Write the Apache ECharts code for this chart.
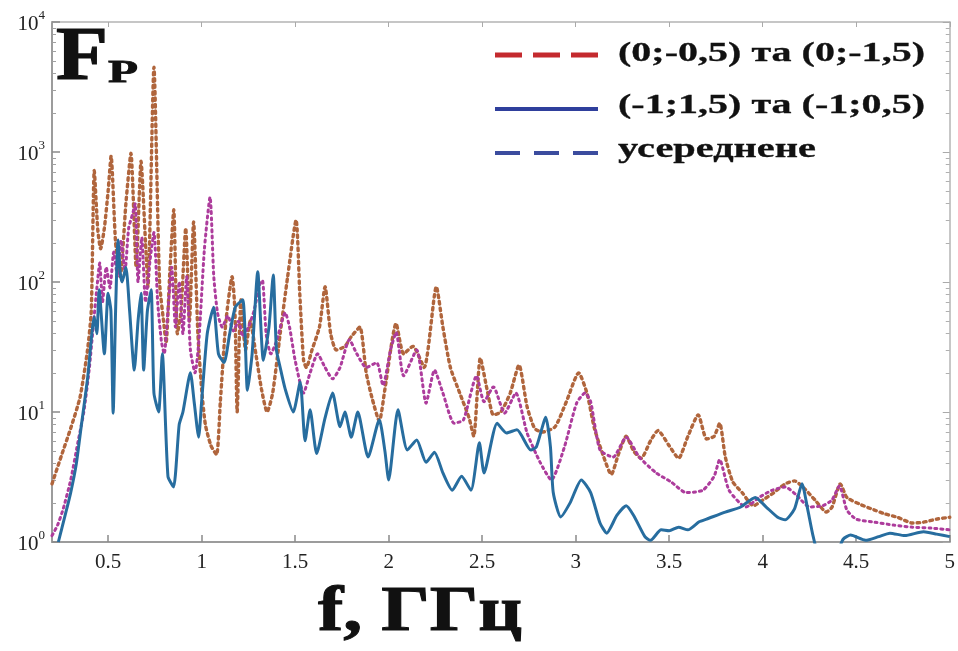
<!DOCTYPE html>
<html>
<head>
<meta charset="utf-8">
<script src="https://cdn.jsdelivr.net/npm/echarts@6/dist/echarts.min.js"></script>
<style>
  html, body { margin: 0; padding: 0; background: #ffffff; }
  #chart { width: 958px; height: 651px; }
</style>
</head>
<body>
<div id="chart"></div>
<script>
// Spectral factor Fp versus frequency f (GHz), three curves.

// (0;-0,5) та (0;-1,5)
const freqA = [0.20, 0.25, 0.30, 0.35, 0.39, 0.41, 0.426, 0.445, 0.46, 0.48, 0.50, 0.516, 0.54, 0.565, 0.595,
  0.622, 0.65, 0.676, 0.70, 0.713, 0.745, 0.775, 0.80, 0.81, 0.83, 0.851, 0.87, 0.89, 0.915, 0.935, 0.957, 0.98,
  1.00, 1.02, 1.05, 1.08, 1.10, 1.13, 1.163, 1.178, 1.19, 1.21, 1.235, 1.26, 1.29, 1.32, 1.35, 1.38, 1.42, 1.46,
  1.505, 1.525, 1.545, 1.56, 1.59, 1.63, 1.66, 1.69, 1.72, 1.766, 1.80, 1.846, 1.88, 1.91, 1.95, 1.98, 2.04,
  2.08, 2.13, 2.19, 2.255, 2.29, 2.33, 2.38, 2.43, 2.455, 2.49, 2.53, 2.56, 2.60, 2.65, 2.697, 2.74, 2.78, 2.82,
  2.89, 2.95, 3.016, 3.06, 3.10, 3.15, 3.19, 3.23, 3.27, 3.31, 3.35, 3.40, 3.44, 3.50, 3.55, 3.60, 3.655, 3.70,
  3.74, 3.77, 3.80, 3.84, 3.89, 3.95, 4.00, 4.06, 4.12, 4.17, 4.22, 4.28, 4.34, 4.37, 4.415, 4.45, 4.52, 4.58,
  4.65, 4.72, 4.80, 4.86, 4.93, 5.00];
const valA = [2.8, 4.6, 7.5, 13, 30, 60, 720, 250, 180, 260, 500, 930, 200, 110, 400,
  980, 130, 850, 200, 92, 4500, 100, 45, 34, 120, 360, 40, 60, 260, 50, 290, 40,
  15, 8, 5.5, 4.7, 12, 50, 110, 60, 10, 73, 30, 50, 28, 15, 10, 14, 40, 110,
  300, 80, 25, 22, 30, 45, 92, 40, 30, 32, 38, 45, 20, 13, 8.5, 15, 48,
  28, 32, 22, 92, 45, 22, 14, 9, 6.5, 26, 14, 9.5, 10, 14, 23, 11, 7.5, 7,
  7.7, 12, 20, 14, 7.5, 4.5, 3.3, 4.8, 6.5, 5, 4.4, 6, 7.2, 5.5, 4.4, 6.5, 9.5, 6.2,
  6.5, 8.2, 4.5, 2.9, 2.4, 1.9, 2.1, 2.4, 2.8, 2.95, 2.6, 2.1, 1.7, 1.85, 2.8, 2.2, 1.95, 1.8,
  1.65, 1.55, 1.4, 1.42, 1.5, 1.55];

// усереднене
const freqB = [0.20, 0.23, 0.26, 0.30, 0.34, 0.37, 0.40, 0.42, 0.44, 0.455, 0.47, 0.49, 0.51, 0.53, 0.55, 0.57,
  0.59, 0.61, 0.63, 0.645, 0.66, 0.68, 0.70, 0.725, 0.745, 0.765, 0.785, 0.80, 0.82, 0.84, 0.86, 0.88, 0.90,
  0.92, 0.94, 0.965, 0.985, 1.015, 1.045, 1.065, 1.085, 1.11, 1.14, 1.17, 1.197, 1.22, 1.25, 1.28, 1.31, 1.325,
  1.345, 1.37, 1.40, 1.447, 1.47, 1.50, 1.545, 1.58, 1.62, 1.66, 1.70, 1.74, 1.79, 1.83, 1.88, 1.936, 1.97,
  2.01, 2.04, 2.08, 2.15, 2.20, 2.245, 2.29, 2.35, 2.40, 2.47, 2.51, 2.56, 2.62, 2.68, 2.74, 2.81, 2.87, 2.94,
  3.005, 3.05, 3.08, 3.13, 3.20, 3.27, 3.34, 3.43, 3.51, 3.59, 3.68, 3.74, 3.77, 3.82, 3.91, 3.98, 4.05, 4.12,
  4.18, 4.25, 4.32, 4.37, 4.41, 4.45, 4.50, 4.60, 4.70, 4.80, 4.90, 5.00];
const valB = [1.12, 1.35, 1.8, 3.0, 6, 10, 22, 45, 90, 140, 70, 130, 90, 170, 110, 210,
  120, 260, 330, 400, 100, 220, 70, 150, 240, 70, 35, 28, 60, 130, 45, 100, 40,
  110, 30, 20, 35, 180, 450, 110, 58, 45, 55, 42, 50, 38, 45, 60, 95, 103,
  40, 28, 35, 58, 45, 25, 14, 20, 28, 22, 18, 22, 36, 28, 22, 24, 16,
  30, 41, 19, 30, 11.7, 21, 14, 8.2, 8.7, 19, 12, 15.6, 9.8, 14, 6.9, 4.1, 3.0, 5.4,
  11.7, 14, 12, 5.1, 4.5, 6.4, 4.5, 3.4, 2.9, 2.4, 2.5, 3.2, 4.3, 2.5, 1.86, 2.2, 2.5, 2.65,
  2.3, 1.86, 1.9, 2.1, 2.7, 1.76, 1.5, 1.42, 1.35, 1.3, 1.28, 1.24];

// (-1;1,5) та (-1;0,5)
const freqC = [0.234, 0.27, 0.30, 0.33, 0.356, 0.39, 0.426, 0.44, 0.452, 0.48, 0.50, 0.515, 0.527, 0.54, 0.553,
  0.565, 0.575, 0.595, 0.615, 0.64, 0.66, 0.676, 0.69, 0.71, 0.73, 0.745, 0.77, 0.79, 0.82, 0.85, 0.88, 0.90,
  0.94, 0.96, 0.984, 1.00, 1.03, 1.064, 1.09, 1.12, 1.15, 1.18, 1.22, 1.245, 1.27, 1.30, 1.33, 1.36, 1.383,
  1.40, 1.42, 1.447, 1.49, 1.527, 1.553, 1.58, 1.615, 1.66, 1.70, 1.74, 1.766, 1.80, 1.835, 1.89, 1.95, 1.98,
  2.00, 2.05, 2.10, 2.15, 2.20, 2.245, 2.29, 2.34, 2.39, 2.44, 2.485, 2.51, 2.58, 2.63, 2.686, 2.76, 2.79,
  2.84, 2.865, 2.88, 2.92, 2.97, 3.03, 3.08, 3.13, 3.166, 3.22, 3.27, 3.31, 3.37, 3.40, 3.457, 3.50, 3.55,
  3.60, 3.66, 3.70, 3.80, 3.88, 3.96, 4.02, 4.08, 4.12, 4.17, 4.21, 4.24, 4.27, 4.30, 4.38, 4.43, 4.47, 4.55,
  4.62, 4.68, 4.76, 4.86, 4.93, 5.00];
const valC = [1.0, 1.6, 2.4, 4, 7.7, 18, 54, 40, 87, 28, 82, 60, 9.8, 60, 210,
  117, 100, 130, 60, 21, 50, 82, 21, 60, 87, 14, 10, 28, 3.2, 2.65, 8, 10,
  20, 12, 6.4, 12, 40, 64, 28, 24, 40, 64, 73, 14.7, 28, 120, 25, 45, 113,
  30, 22, 15, 10, 17, 6, 10.4, 4.8, 9, 14, 7.7, 10, 6.4, 10, 4.5, 8.7, 5,
  3.0, 10.4, 5.1, 6.1, 4.1, 4.9, 3.4, 2.5, 3.2, 2.5, 5.8, 3.4, 8.2, 6.9, 7.3, 5.1, 5.4,
  9.1, 5.4, 2.4, 1.56, 2.0, 3.0, 2.4, 1.4, 1.17, 1.6, 1.9, 1.6, 1.1, 1.03, 1.24, 1.22, 1.3,
  1.24, 1.43, 1.5, 1.7, 1.85, 2.2, 1.85, 1.55, 1.48, 1.8, 2.8, 1.8, 1.1, 0.8, 0.75, 1.05, 1.13, 1.03,
  1.1, 1.17, 1.12, 1.2, 1.15, 1.1];

const seriesNames = ['(0;-0,5) та (0;-1,5)', '(-1;1,5) та (-1;0,5)', 'усереднене'];
const xTickValues = [0.5, 1, 1.5, 2, 2.5, 3, 3.5, 4, 4.5, 5];
const yTickValues = [1, 10, 100, 1000, 10000];

// minor log ticks 2..9 within each decade
const yMinorValues = [];
[1, 10, 100, 1000].forEach(d => { for (let k = 2; k <= 9; k++) yMinorValues.push(k * d); });

const pairs = (xs, ys) => xs.map((x, i) => [x, ys[i]]);

const serif = '"Liberation Serif", "Times New Roman", serif';
const measureCtx = document.createElement('canvas').getContext('2d');
function textWidth(text, font) { measureCtx.font = font; return measureCtx.measureText(text).width; }

// stretched heavy serif text, left edge at x, vertical middle at y, fitted to a given width
function wideText(text, size, x, y, width, weight) {
  const font = 'bold ' + size + 'px ' + serif;
  return {
    type: 'text', x: x, y: y, scaleX: width / textWidth(text, font), silent: true,
    style: {
      text: text, font: font, fill: '#111', stroke: '#111', lineWidth: weight,
      textAlign: 'left', textVerticalAlign: 'middle'
    }
  };
}

const legendRows = [
  { name: seriesNames[0], color: '#c42a2e', dash: [27, 11], lw: 5, y: 55, ty: 54, w: 307 },
  { name: seriesNames[1], color: '#2f3f9c', dash: null, lw: 4, y: 109, ty: 106, w: 307 },
  { name: seriesNames[2], color: '#3b4c9e', dash: [25, 14], lw: 4, y: 153, ty: 150, w: 198 }
];

const graphics = [
  wideText('F', 76, 56, 59, 52, 1.2),
  wideText('P', 32, 108, 74, 30, 0.8),
  wideText('f, ГГц', 64, 318, 613, 204, 1.0)
];
legendRows.forEach(r => {
  graphics.push({
    type: 'line', silent: true,
    shape: { x1: 495, y1: r.y, x2: 598, y2: r.y },
    style: { stroke: r.color, lineWidth: r.lw, lineDash: r.dash || null }
  });
  graphics.push(wideText(r.name, 28, 618, r.ty, r.w, 0.3));
});

const axisGrey = '#9c9c9c';
const logAxisBase = { type: 'log', logBase: 10, min: 1, max: 10000, splitLine: { show: false } };

const chart = echarts.init(document.getElementById('chart'), null, { renderer: 'canvas' });
chart.setOption({
  animation: false,
  backgroundColor: '#ffffff',
  grid: { left: 52, right: 5, top: 22, bottom: 109, containLabel: false },
  xAxis: [
    {
      type: 'value', min: 0.2, max: 5, position: 'bottom',
      axisLine: { show: true, onZero: false, lineStyle: { color: axisGrey, width: 2 } },
      axisTick: { show: true, inside: true, length: 7, customValues: xTickValues, lineStyle: { color: '#8a8a8a', width: 1.5 } },
      axisLabel: { customValues: xTickValues, color: '#222', fontFamily: serif, fontSize: 21, margin: 10 },
      splitLine: { show: false }
    },
    {
      type: 'value', min: 0.2, max: 5, position: 'top',
      axisLine: { show: true, onZero: false, lineStyle: { color: '#b4b4b4', width: 1.5 } },
      axisTick: { show: true, inside: true, length: 5, customValues: xTickValues, lineStyle: { color: '#aaaaaa' } },
      axisLabel: { show: false },
      splitLine: { show: false }
    }
  ],
  yAxis: [
    Object.assign({}, logAxisBase, {
      position: 'left',
      axisLine: { show: true, onZero: false, lineStyle: { color: axisGrey, width: 2 } },
      axisTick: { show: true, inside: true, length: 8, customValues: yTickValues, lineStyle: { color: '#8a8a8a', width: 1.5 } },
      axisLabel: {
        customValues: yTickValues, margin: 7,
        formatter: v => '{b|10}{s|' + Math.round(Math.log10(v)) + '}',
        rich: {
          b: { fontFamily: serif, fontSize: 21, color: '#222', lineHeight: 26, verticalAlign: 'bottom' },
          s: { fontFamily: serif, fontSize: 13, color: '#222', lineHeight: 14, verticalAlign: 'top' }
        }
      }
    }),
    Object.assign({}, logAxisBase, {
      position: 'right',
      axisLine: { show: true, onZero: false, lineStyle: { color: '#b4b4b4', width: 1.5 } },
      axisTick: { show: true, inside: true, length: 7, customValues: yTickValues, lineStyle: { color: '#aaaaaa' } },
      axisLabel: { show: false }
    }),
    Object.assign({}, logAxisBase, {
      position: 'left',
      axisLine: { show: false },
      axisTick: { show: true, inside: true, length: 4, customValues: yMinorValues, lineStyle: { color: '#a0a0a0' } },
      axisLabel: { show: false }
    }),
    Object.assign({}, logAxisBase, {
      position: 'right',
      axisLine: { show: false },
      axisTick: { show: true, inside: true, length: 4, customValues: yMinorValues, lineStyle: { color: '#b0b0b0' } },
      axisLabel: { show: false }
    })
  ],
  series: [
    {
      name: seriesNames[0], type: 'line', xAxisIndex: 0, yAxisIndex: 0,
      data: pairs(freqA, valA), showSymbol: false, symbol: 'none', smooth: 0.2,
      lineStyle: { color: '#b0653c', width: 3.4, type: [2.5, 4], cap: 'round' }
    },
    {
      name: seriesNames[2], type: 'line', xAxisIndex: 0, yAxisIndex: 0,
      data: pairs(freqB, valB), showSymbol: false, symbol: 'none', smooth: 0.2,
      lineStyle: { color: '#ad3c9c', width: 3, type: [2, 4], cap: 'round' }
    },
    {
      name: seriesNames[1], type: 'line', xAxisIndex: 0, yAxisIndex: 0,
      data: pairs(freqC, valC), showSymbol: false, symbol: 'none', smooth: 0.2,
      lineStyle: { color: '#276d9f', width: 3 }
    }
  ],
  graphic: graphics
});
</script>
</body>
</html>
